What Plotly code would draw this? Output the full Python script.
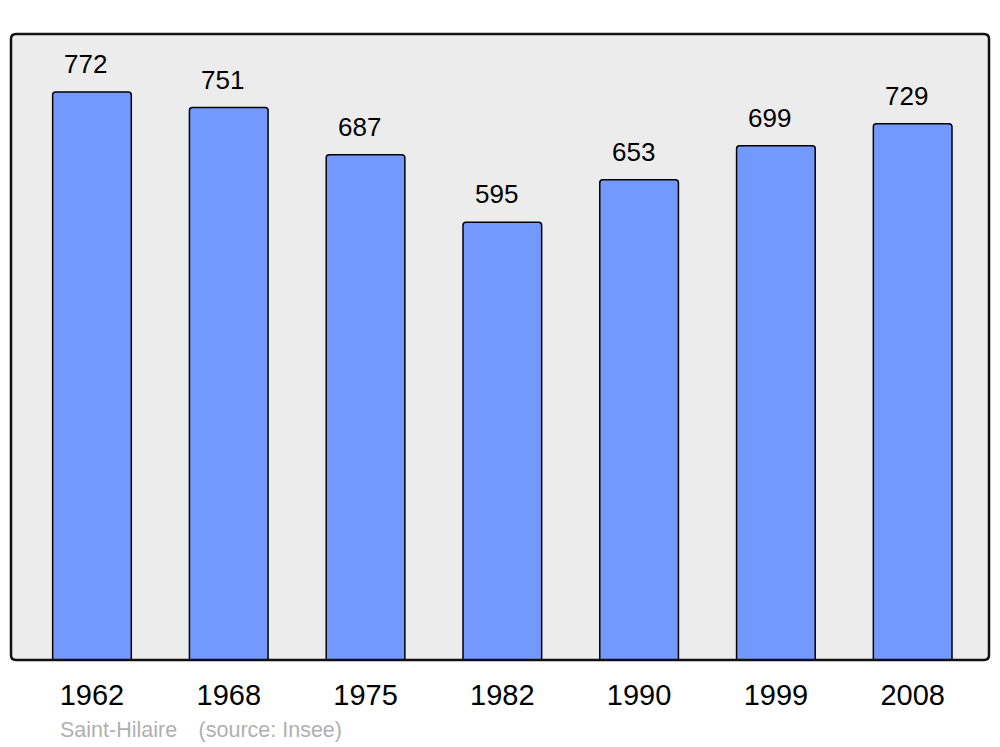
import plotly.graph_objects as go

years = ['1962', '1968', '1975', '1982', '1990', '1999', '2008']
population = [772, 751, 687, 595, 653, 699, 729]
place = 'Saint-Hilaire'
source = '(source: Insee)'

idx = list(range(len(years)))

fig = go.Figure()
fig.add_trace(go.Bar(
    x=idx, y=population,
    width=0.575,
    marker=dict(color='#7399ff', line=dict(color='black', width=1.5), cornerradius=3),
    hoverinfo='skip',
))

# value labels above bars
for i, v in zip(idx, population):
    fig.add_annotation(x=i, y=v, text=str(v), showarrow=False,
                       yshift=28, xshift=-6, yanchor='middle',
                       font=dict(size=26, color='black', family='Liberation Sans, Arial'))

fig.add_annotation(xref='paper', yref='paper', x=0.0485, y=-0.112,
                   text=f'{place}\u2003{source}', showarrow=False,
                   xanchor='left', yanchor='middle',
                   font=dict(size=21.5, color='#b0b0b0', family='Liberation Sans, Arial'))

# rounded frame around the plot area
rx, ry = 5 / 978, 5 / 626
frame = (f'M {rx},0 L {1-rx},0 Q 1,0 1,{ry} L 1,{1-ry} Q 1,1 {1-rx},1 '
         f'L {rx},1 Q 0,1 0,{1-ry} L 0,{ry} Q 0,0 {rx},0 Z')
fig.add_shape(type='path', path=frame, xref='paper', yref='paper',
              line=dict(color='#111111', width=2.5), layer='above')

fig.update_layout(
    width=1000, height=747,
    margin=dict(l=11, r=11, t=34, b=87),
    paper_bgcolor='white',
    plot_bgcolor='#ececec',
    showlegend=False,
    font=dict(family='Liberation Sans, Arial', color='black'),
    xaxis=dict(range=[-0.592, 6.558], tickvals=idx, ticktext=years,
               showgrid=False, zeroline=False, showline=False,
               ticks='', ticklabelstandoff=15, tickfont=dict(size=29)),
    yaxis=dict(range=[0, 851], showgrid=False, zeroline=False,
               showticklabels=False, showline=False),
)

fig.write_html("out.html", config={'displayModeBar': False},
               post_script="document.body.style.margin='0';")
